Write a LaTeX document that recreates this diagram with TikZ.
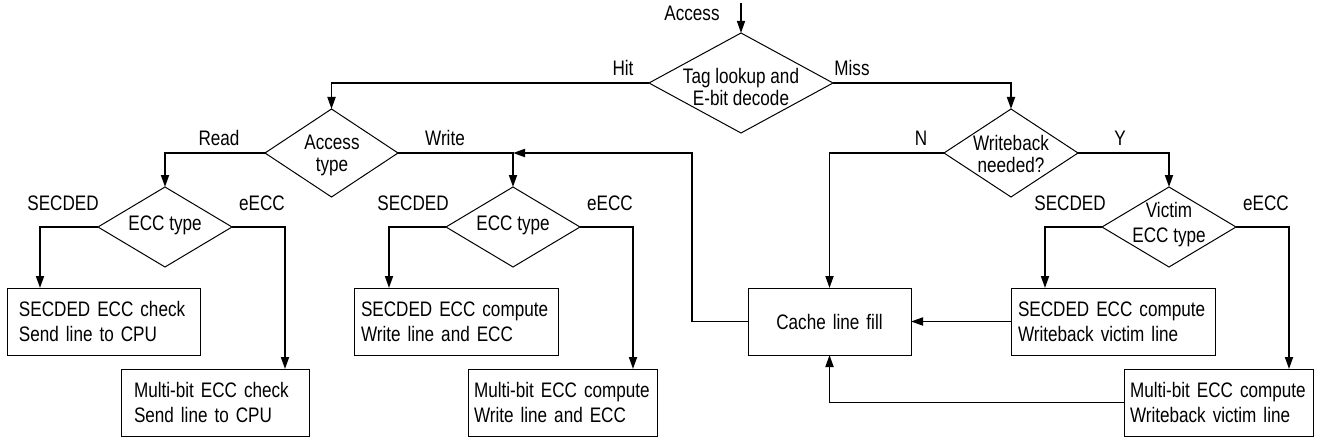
\documentclass[tikz,border=0pt]{standalone}
\usepackage{fontspec}
\setmainfont{Liberation Sans}[FakeStretch=0.815]
\usetikzlibrary{arrows.meta,shapes.geometric}
\begin{document}
\begin{tikzpicture}[x=1pt,y=-1pt,
  every node/.style={font=\fontsize{21}{25}\selectfont},
  dia/.style={draw, diamond, line width=1pt, inner sep=0pt, outer sep=0pt},
  dtext/.style={align=center, inner sep=0pt, font=\fontsize{21}{22}\selectfont},
  box/.style={draw, rectangle, line width=1pt, anchor=north west, align=left, minimum height=67pt, inner ysep=0pt, outer sep=0pt},
  lbl/.style={inner sep=0pt},
  conn/.style={line width=1.8pt, -{Triangle[length=12pt,width=8pt]}}
]
\useasboundingbox (0,0) rectangle (1320,441);

% diamonds
\node[dia, minimum width=184pt, minimum height=100pt] (tag) at (741,83) {};
\node[dtext] (tagt) at (741,87) {Tag lookup and\\E-bit decode};
\node[dia, minimum width=133pt, minimum height=88pt] (acc) at (331.5,153) {};
\node[dtext] (acct) at (332,155) {Access\\type};
\node[dia, minimum width=134pt, minimum height=80pt] (ecc1) at (165,227) {};
\node[dtext] (ecc1t) at (165,225) {ECC type};
\node[dia, minimum width=134pt, minimum height=80pt] (ecc2) at (513,227) {};
\node[dtext] (ecc2t) at (513,225) {ECC type};
\node[dia, minimum width=134pt, minimum height=88pt] (wb) at (1011,153) {};
\node[dtext] (wbt) at (1011,154) {Writeback\\needed?};
\node[dia, minimum width=134pt, minimum height=80pt] (vic) at (1169,227) {};
\node[dtext, font=\fontsize{21}{25}\selectfont] (vict) at (1169,225) {Victim\\ECC type};

% boxes
\node[box, inner xsep=12pt, text width=169pt] (b1) at (7,288) {\mbox{SECDED ECC check}\\\mbox{Send line to CPU}};
\node[box, inner xsep=13pt, text width=162pt] (b2) at (121,369) {\mbox{Multi-bit ECC check}\\\mbox{Send line to CPU}};
\node[box, inner xsep=7pt, text width=190pt] (b3) at (354,288) {\mbox{SECDED ECC compute}\\\mbox{Write line and ECC}};
\node[box, inner xsep=6pt, text width=177pt] (b4) at (468,369) {\mbox{Multi-bit ECC compute}\\\mbox{Write line and ECC}};
\node[box, align=center, inner xsep=0pt, text width=163pt] (fill) at (748,288) {Cache line fill};
\node[box, inner xsep=7pt, text width=190pt] (b5) at (1011,288) {\mbox{SECDED ECC compute}\\\mbox{Writeback victim line}};
\node[box, inner xsep=6pt, text width=177pt] (b6) at (1124,369) {\mbox{Multi-bit ECC compute}\\\mbox{Writeback victim line}};

% labels
\node[lbl] (laccess) at (692,13) {Access};
\node[lbl] (lhit) at (623,68) {Hit};
\node[lbl] (lmiss) at (852,68) {Miss};
\node[lbl] (lread) at (219,138) {Read};
\node[lbl] (lwrite) at (445,138) {Write};
\node[lbl] (ls1) at (63,203) {SECDED};
\node[lbl] (le1) at (262,203) {eECC};
\node[lbl] (ls2) at (413,203) {SECDED};
\node[lbl] (le2) at (610,203) {eECC};
\node[lbl] (ln) at (921,138) {N};
\node[lbl] (ly) at (1120,138) {Y};
\node[lbl] (ls3) at (1070,203) {SECDED};
\node[lbl] (le3) at (1266,203) {eECC};

% coordinates
\coordinate (in) at (741,3);
\coordinate (jr) at (692,153);
\coordinate (j) at (513,153);

% connectors
\draw[conn, line width=1.4pt] (in) -- (tag.north);
\draw[conn] (tag.west) -| (acc.north);
\draw[conn] (tag.east) -| (wb.north);
\draw[conn] (acc.west) -| (ecc1.north);
\draw[conn] (acc.east) -| (ecc2.north);
\draw[conn] (ecc1.west) -| ([xshift=33pt]b1.north west);
\draw[conn] (ecc1.east) -| ([xshift=164pt]b2.north west);
\draw[conn] (ecc2.west) -| ([xshift=35pt]b3.north west);
\draw[conn] (ecc2.east) -| ([xshift=165pt]b4.north west);
\draw[conn] (fill.west) -| (jr) -- (j);
\draw[conn] (wb.west) -| (fill.north);
\draw[conn] (wb.east) -| (vic.north);
\draw[conn] (vic.west) -| ([xshift=34pt]b5.north west);
\draw[conn] (vic.east) -| ([xshift=165pt]b6.north west);
\draw[conn] (b5.west) -- (fill.east);
\draw[conn] (b6.west) -| (fill.south);
\end{tikzpicture}
\end{document}
